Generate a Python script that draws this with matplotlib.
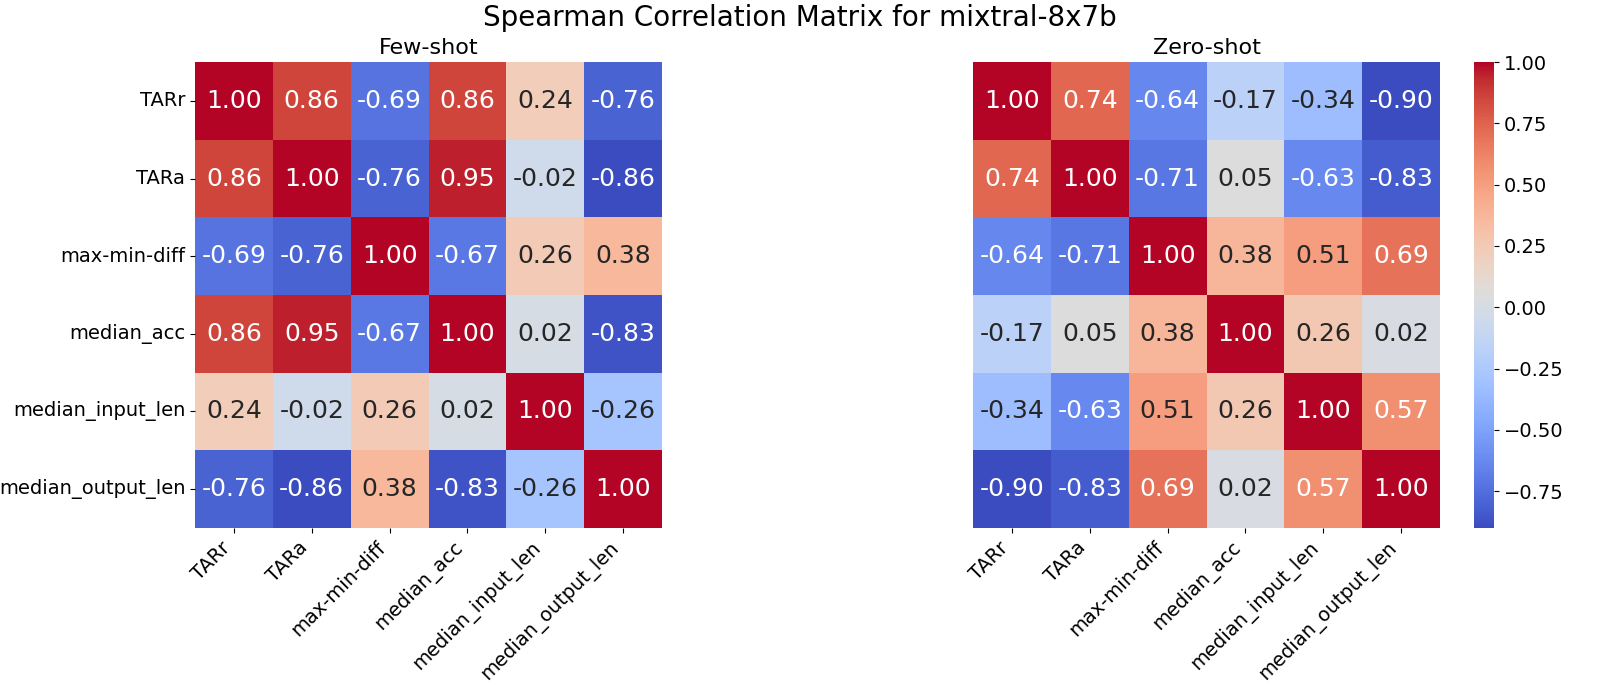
import matplotlib
matplotlib.use("Agg")
import matplotlib.pyplot as plt
import seaborn as sns
import numpy as np
import pandas as pd

labels = ["TARr", "TARa", "max-min-diff", "median_acc", "median_input_len", "median_output_len"]

few_shot = [
    [1.00, 0.86, -0.69, 0.86, 0.24, -0.76],
    [0.86, 1.00, -0.76, 0.95, -0.02, -0.86],
    [-0.69, -0.76, 1.00, -0.67, 0.26, 0.38],
    [0.86, 0.95, -0.67, 1.00, 0.02, -0.83],
    [0.24, -0.02, 0.26, 0.02, 1.00, -0.26],
    [-0.76, -0.86, 0.38, -0.83, -0.26, 1.00],
]

zero_shot = [
    [1.00, 0.74, -0.64, -0.17, -0.34, -0.90],
    [0.74, 1.00, -0.71, 0.05, -0.63, -0.83],
    [-0.64, -0.71, 1.00, 0.38, 0.51, 0.69],
    [-0.17, 0.05, 0.38, 1.00, 0.26, 0.02],
    [-0.34, -0.63, 0.51, 0.26, 1.00, 0.57],
    [-0.90, -0.83, 0.69, 0.02, 0.57, 1.00],
]

df_few = pd.DataFrame(few_shot, index=labels, columns=labels)
df_zero = pd.DataFrame(zero_shot, index=labels, columns=labels)

fig = plt.figure(figsize=(16, 7), dpi=100)
ax1 = fig.add_axes([195/1600, 1-528/700, 467/1600, 466/700])
ax2 = fig.add_axes([973/1600, 1-528/700, 467/1600, 466/700])
cax = fig.add_axes([1474/1600, 1-528/700, 20/1600, 466/700])

annot_kw = {"size": 18}
sns.heatmap(df_few, ax=ax1, cmap="coolwarm", annot=True, fmt=".2f",
            annot_kws=annot_kw, cbar=False)
sns.heatmap(df_zero, ax=ax2, cmap="coolwarm", annot=True, fmt=".2f",
            annot_kws=annot_kw, cbar=True, cbar_ax=cax)

ax1.set_title("Few-shot", fontsize=16)
ax2.set_title("Zero-shot", fontsize=16)

for ax in (ax1, ax2):
    ax.set_xticklabels(labels, rotation=45, ha="right", fontsize=14)
ax1.set_yticklabels(labels, rotation=0, fontsize=14)
ax2.set_yticks([])

cax.tick_params(labelsize=14)

fig.suptitle("Spearman Correlation Matrix for mixtral-8x7b", fontsize=20, y=0.995)

fig.savefig("out.png", dpi=100)
